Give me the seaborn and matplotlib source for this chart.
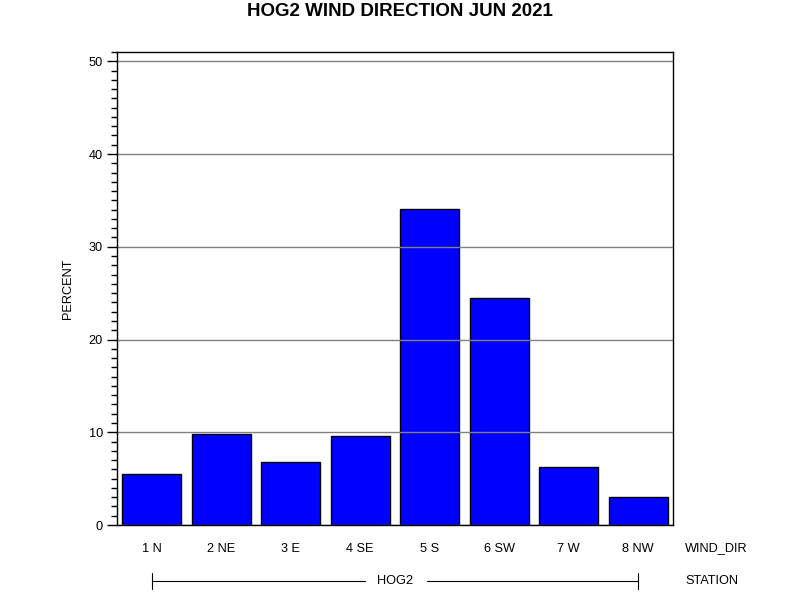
import matplotlib
matplotlib.use("Agg")
import matplotlib.pyplot as plt
from matplotlib.ticker import MultipleLocator
import seaborn as sns
import pandas as pd

categories = ["1 N", "2 NE", "3 E", "4 SE", "5 S", "6 SW", "7 W", "8 NW"]
percent = [5.46, 9.8, 6.76, 9.6, 34.1, 24.5, 6.2, 3.05]
station = "HOG2"
title = "HOG2 WIND DIRECTION JUN 2021"

sns.set_style("white")
plt.rcParams['font.family'] = ['Liberation Sans', 'DejaVu Sans']
plt.rcParams['text.color'] = 'black'
plt.rcParams['axes.labelcolor'] = 'black'
plt.rcParams['xtick.color'] = 'black'
plt.rcParams['ytick.color'] = 'black'

fs = 9.2
df = pd.DataFrame({"WIND_DIR": categories, "PERCENT": percent})

fig = plt.figure(figsize=(8, 6), dpi=100)
ax = fig.add_axes([117/800, 75/600, 556/800, 473/600])

sns.barplot(data=df, x="WIND_DIR", y="PERCENT", color="#0000ff", saturation=1,
            edgecolor="black", linewidth=1.0, width=0.85, ax=ax)

ax.set_xlim(-0.5, 7.5)
ax.set_ylim(0, 51)
ax.yaxis.set_major_locator(MultipleLocator(10))
ax.yaxis.set_minor_locator(MultipleLocator(1))
ax.yaxis.grid(True, which="major", color="#808080", linewidth=1)
ax.set_axisbelow(False)
for b in ax.patches:
    b.set_zorder(1)
for gl in ax.get_ygridlines():
    gl.set_zorder(3)

for s in ax.spines.values():
    s.set_visible(True)
    s.set_color("black")
    s.set_linewidth(1)
    s.set_zorder(4)

ax.tick_params(axis="y", which="major", direction="out", length=7, width=1, left=True,
               labelsize=fs, pad=3, colors="black")
ax.tick_params(axis="y", which="minor", direction="out", length=4, width=1, left=True)
ax.tick_params(axis="x", which="both", length=0, bottom=False, labelsize=fs, pad=13,
               colors="black")

ax.set_xlabel("")
ax.set_ylabel("PERCENT", fontsize=fs, labelpad=11, color="black")

ax.text(1.022, -23/473, "WIND_DIR", transform=ax.transAxes, fontsize=fs,
        ha="left", va="center", color="black")
ax.text(1.022, -56/473, "STATION", transform=ax.transAxes, fontsize=fs,
        ha="left", va="center", color="black")

# station line
trans = ax.get_xaxis_transform()
yline = -56/473
ax.plot([0, 3.07], [yline, yline], color="black", lw=0.8, transform=trans, clip_on=False)
ax.plot([3.96, 7], [yline, yline], color="black", lw=0.8, transform=trans, clip_on=False)
for xe in (0, 7):
    ax.plot([xe, xe], [yline - 8/473, yline + 8/473], color="black", lw=0.8,
            transform=trans, clip_on=False)
ax.text(3.5, yline, station, transform=trans, fontsize=fs, ha="center", va="center",
        color="black", clip_on=False)

fig.text(0.5, 1 - 12/600, title, ha="center", va="center", fontsize=13.5,
         fontweight="bold", color="black")

fig.savefig("out.png", dpi=100)
